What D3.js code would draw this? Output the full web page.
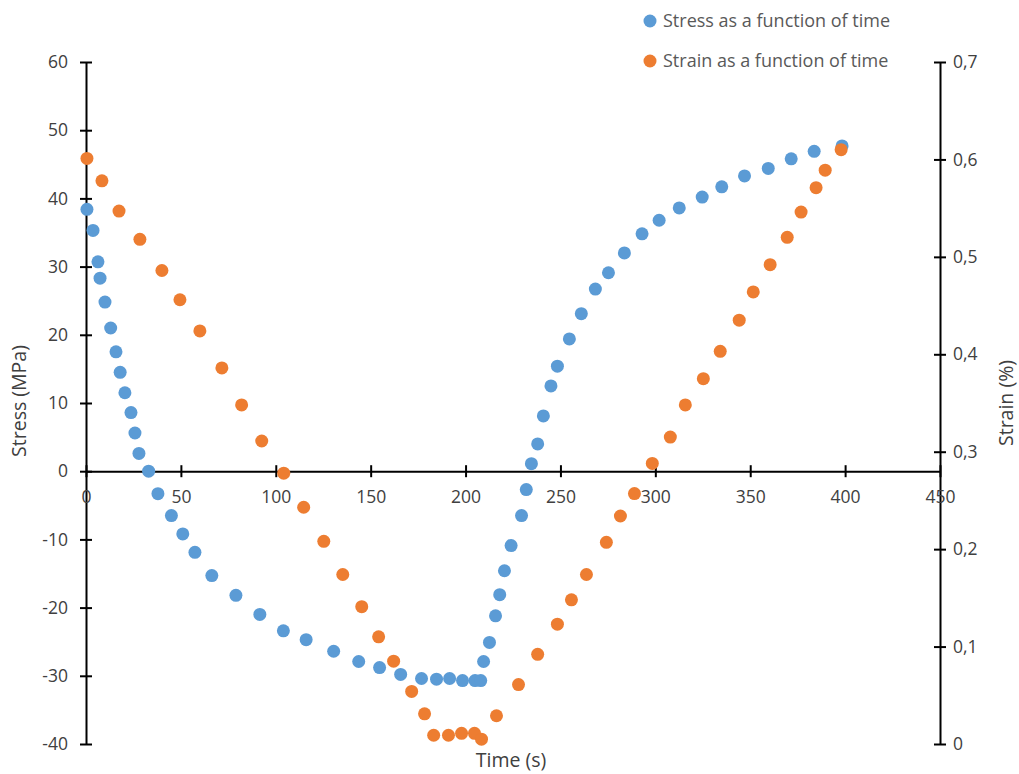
<!DOCTYPE html>
<html>
<head>
<meta charset="utf-8">
<script src="https://cdn.jsdelivr.net/npm/d3@7"></script>
<style>
  body { margin: 0; background: #fff; }
  text { font-family: "Open Sans", "Noto Sans", sans-serif; }
</style>
</head>
<body>
<div id="chart"></div>
<script>
// stress series (time in s, stress in MPa)
let stressTime = [0.5, 3.7, 6.3, 7.4, 10, 13, 15.8, 18, 20.5, 23.7, 25.8, 27.9, 33, 37.9, 45, 51, 57.4, 66.3, 79, 91.6,
  104, 116, 130.5, 143.7, 154.7, 165.8, 176.8, 184.7, 191.6, 198.4, 205, 208, 209.5, 212.6, 215.8, 218, 220.5, 224, 229.5, 232,
  234.7, 238, 241, 245, 248.4, 254.7, 261, 268.4, 275.3, 283.7, 293, 302, 312.6, 324.7, 335, 347, 359.5, 371.6, 383.7, 398.4];
let stressVal = [38.4, 35.3, 30.7, 28.3, 24.8, 21.0, 17.5, 14.5, 11.5, 8.6, 5.6, 2.6, 0, -3.3, -6.5, -9.2, -11.9, -15.3, -18.2, -21.0,
  -23.4, -24.7, -26.4, -27.9, -28.8, -29.8, -30.4, -30.5, -30.4, -30.7, -30.7, -30.7, -27.9, -25.1, -21.2, -18.1, -14.6, -10.9, -6.5, -2.7,
  1.1, 4.0, 8.1, 12.5, 15.4, 19.4, 23.1, 26.7, 29.1, 32.0, 34.8, 36.8, 38.6, 40.2, 41.7, 43.3, 44.4, 45.8, 46.9, 47.7];

// strain series (time in s, strain in %)
let strainTime = [0.5, 8.4, 17.4, 28.4, 40, 49.5, 60, 71.6, 82, 92.6, 104.2, 114.7, 125.3, 135.3, 145.3, 154.2, 162.1, 171.6, 178.4, 183.2,
  191, 197.9, 204.7, 208.4, 216.3, 227.9, 238, 248.4, 255.8, 263.7, 274.2, 281.6, 289, 298.4, 307.9, 315.8, 325.3, 334.2, 344.2, 351.6,
  360.5, 369.5, 376.8, 384.7, 389.5, 397.9];
let strainVal = [0.601, 0.578, 0.547, 0.518, 0.486, 0.456, 0.424, 0.386, 0.348, 0.311, 0.278, 0.243, 0.208, 0.174, 0.141, 0.110, 0.085, 0.054, 0.031, 0.009,
  0.009, 0.011, 0.011, 0.005, 0.029, 0.061, 0.092, 0.123, 0.148, 0.174, 0.207, 0.234, 0.257, 0.288, 0.315, 0.348, 0.375, 0.403, 0.435, 0.464,
  0.492, 0.520, 0.546, 0.571, 0.589, 0.610];

let xTicks = [0, 50, 100, 150, 200, 250, 300, 350, 400, 450];
let yLeftTicks = [60, 50, 40, 30, 20, 10, 0, -10, -20, -30, -40];
let yRightTicks = [0, 0.1, 0.2, 0.3, 0.4, 0.5, 0.6, 0.7];
let seriesNames = ["Stress as a function of time", "Strain as a function of time"];
let seriesColors = ["#5B9BD5", "#ED7D31"];

let width = 1019, height = 774;
let plotLeft = 86, plotRight = 940, plotTop = 62, plotBottom = 744;

let svg = d3.select("#chart").append("svg")
  .attr("width", width)
  .attr("height", height);

let x = d3.scaleLinear().domain([0, 450]).range([plotLeft, plotRight]);
let yL = d3.scaleLinear().domain([-40, 60]).range([plotBottom, plotTop]);
let yR = d3.scaleLinear().domain([0, 0.7]).range([plotBottom, plotTop]);

let textColor = "#404040";

// left axis
let gL = svg.append("g").attr("transform", "translate(" + plotLeft + ",0)")
  .call(d3.axisLeft(yL).tickValues(yLeftTicks).tickSizeOuter(0).tickFormat(d => String(d)));
gL.selectAll(".tick line").attr("x1", -6).attr("x2", 6);
gL.selectAll(".tick text").attr("x", -18);

// right axis
let gR = svg.append("g").attr("transform", "translate(" + plotRight + ",0)")
  .call(d3.axisRight(yR).tickValues(yRightTicks).tickSizeOuter(0)
    .tickFormat(d => d === 0 ? "0" : d3.format(".1f")(d).replace(".", ",")));
gR.selectAll(".tick line").attr("x1", -6).attr("x2", 6);
gR.selectAll(".tick text").attr("x", 13);

// x axis at stress 0
let gX = svg.append("g").attr("transform", "translate(0," + yL(0) + ")")
  .call(d3.axisBottom(x).tickValues(xTicks).tickSizeOuter(0).tickFormat(d => String(d)));
gX.selectAll(".tick line").attr("y1", -6).attr("y2", 6);
gX.selectAll(".tick text").attr("y", 19);

[gL, gR, gX].forEach(g => {
  g.select(".domain").attr("stroke", "#000").attr("stroke-width", 2);
  g.selectAll(".tick line").attr("stroke", "#000").attr("stroke-width", 2);
  g.selectAll(".tick text").attr("fill", textColor).style("font-size", "17.5px")
    .style("font-family", "'Open Sans', 'Noto Sans', sans-serif");
});

// points
svg.append("g").selectAll("circle")
  .data(stressTime.map((t, i) => [t, stressVal[i]]))
  .join("circle")
  .attr("cx", d => x(d[0]))
  .attr("cy", d => yL(d[1]))
  .attr("r", 6.5)
  .attr("fill", seriesColors[0]);

svg.append("g").selectAll("circle")
  .data(strainTime.map((t, i) => [t, strainVal[i]]))
  .join("circle")
  .attr("cx", d => x(d[0]))
  .attr("cy", d => yR(d[1]))
  .attr("r", 6.5)
  .attr("fill", seriesColors[1]);

// axis titles
svg.append("text")
  .attr("transform", "translate(26," + 401 + ") rotate(-90)")
  .attr("text-anchor", "middle")
  .attr("fill", textColor)
  .style("font-size", "19.5px")
  .text("Stress (MPa)");

svg.append("text")
  .attr("transform", "translate(1013," + 403 + ") rotate(-90)")
  .attr("text-anchor", "middle")
  .attr("fill", textColor)
  .style("font-size", "19.5px")
  .text("Strain (%)");

svg.append("text")
  .attr("x", 511)
  .attr("y", 767)
  .attr("text-anchor", "middle")
  .attr("fill", textColor)
  .style("font-size", "19.5px")
  .text("Time (s)");

// legend
let legend = svg.append("g").selectAll("g")
  .data(seriesNames)
  .join("g")
  .attr("transform", (d, i) => "translate(650," + (21 + i * 40) + ")");
legend.append("circle").attr("r", 6.5).attr("fill", (d, i) => seriesColors[i]);
legend.append("text")
  .attr("x", 13)
  .attr("dy", "0.35em")
  .attr("fill", "#595959")
  .style("font-size", "18px")
  .text(d => d);
</script>
</body>
</html>
